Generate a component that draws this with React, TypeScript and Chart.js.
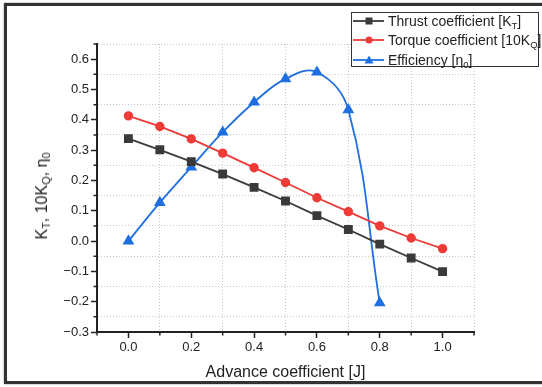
import React, { useEffect, useRef } from "react";
import { Chart, registerables } from "chart.js";

Chart.register(...registerables);

const advance = [0, 0.1, 0.2, 0.3, 0.4, 0.5, 0.6, 0.7, 0.8, 0.9, 1.0];
const thrust = [0.338, 0.301, 0.262, 0.221, 0.177, 0.132, 0.084, 0.038, -0.01, -0.056, -0.101];
const torque = [0.413, 0.378, 0.337, 0.29, 0.242, 0.193, 0.143, 0.097, 0.05, 0.01, -0.025];
const efficiencyJ = [0, 0.1, 0.2, 0.3, 0.4, 0.5, 0.6, 0.7, 0.8];
const efficiency = [0.0, 0.127, 0.244, 0.359, 0.458, 0.535, 0.557, 0.433, -0.204];
const xTickLabels = ["0.0", "0.2", "0.4", "0.6", "0.8", "1.0"];
const yTickLabels = ["\u22120.3", "\u22120.2", "\u22120.1", "0.0", "0.1", "0.2", "0.3", "0.4", "0.5", "0.6"];

const FONT = "'Liberation Sans', Arial, Helvetica, sans-serif";
const C_THRUST = "#3a3a3a";
const C_TORQUE = "#ee3b37";
const C_EFF = "#1f6fe0";
const AXIS = "#222";

function fmt(v: number) {
  return (Math.round(v * 10) / 10).toFixed(1).replace("-", "\u2212");
}
function isMajor(v: number, step: number) {
  const n = Math.round(v * 100);
  return n % step === 0;
}

const minorTicks = {
  id: "minorTicks",
  afterDatasetsDraw(chart: any) {
    const { ctx, chartArea } = chart;
    const xs = chart.scales.x;
    const ys = chart.scales.y;
    ctx.save();
    ctx.strokeStyle = AXIS;
    ctx.lineWidth = 1.5;
    ctx.beginPath();
    xs.ticks.forEach((t: any) => {
      if (!isMajor(t.value, 20)) {
        const px = xs.getPixelForValue(t.value);
        ctx.moveTo(px, chartArea.bottom);
        ctx.lineTo(px, chartArea.bottom + 3.5);
      }
    });
    ys.ticks.forEach((t: any) => {
      if (!isMajor(t.value, 10)) {
        const py = ys.getPixelForValue(t.value);
        ctx.moveTo(chartArea.left, py);
        ctx.lineTo(chartArea.left - 3.5, py);
      }
    });
    ctx.stroke();
    ctx.restore();
  },
};

export default function App() {
  const ref = useRef<HTMLCanvasElement | null>(null);
  useEffect(() => {
    document.body.style.margin = "0";
    const ctx = ref.current!;
    const chart = new Chart(ctx, {
      type: "line",
      data: {
        datasets: [
          {
            label: "Thrust coefficient [KT]",
            data: advance.map((x, i) => ({ x, y: thrust[i] })),
            borderColor: C_THRUST,
            backgroundColor: C_THRUST,
            pointStyle: "rect",
            pointRadius: 5,
            borderWidth: 1.8,
            tension: 0,
          },
          {
            label: "Torque coefficient [10KQ]",
            data: advance.map((x, i) => ({ x, y: torque[i] })),
            borderColor: C_TORQUE,
            backgroundColor: C_TORQUE,
            pointStyle: "circle",
            pointRadius: 3.8,
            borderWidth: 1.8,
            tension: 0,
          },
          {
            label: "Efficiency [η0]",
            data: efficiencyJ.map((x, i) => ({ x, y: efficiency[i] })),
            borderColor: C_EFF,
            backgroundColor: C_EFF,
            pointStyle: "triangle",
            pointRadius: 5,
            borderWidth: 1.8,
            tension: 0.4,
          },
        ],
      },
      options: {
        responsive: false,
        animation: false,
        devicePixelRatio: 1,
        layout: { padding: { left: 0, top: 44, right: 68, bottom: 0 } },
        plugins: { legend: { display: false }, tooltip: { enabled: false } },
        scales: {
          x: {
            type: "linear",
            min: -0.1,
            max: 1.1,
            afterFit: (s: any) => {
              s.height = 55;
            },
            afterBuildTicks: (s: any) => {
              const t = [];
              for (let i = -1; i <= 11; i++) t.push({ value: i / 10 });
              s.ticks = t;
            },
            ticks: {
              autoSkip: false,
              maxRotation: 0,
              padding: 2,
              color: AXIS,
              font: { family: FONT, size: 13 },
              callback: (v: any) => {
                const s = fmt(Number(v));
                return isMajor(Number(v), 20) && xTickLabels.includes(s) ? s : "";
              },
            },
            grid: {
              color: (c: any) => (c.tick && !isMajor(c.tick.value, 20) && c.tick.value > -0.05 ? "#c8c8c8" : "rgba(0,0,0,0)"),
              lineWidth: 1,
              tickLength: 6,
              tickColor: (c: any) => (c.tick && isMajor(c.tick.value, 20) ? AXIS : "rgba(0,0,0,0)"),
              tickWidth: 1.5,
            },
            border: { display: true, color: AXIS, width: 2, dash: [1, 2] },
            title: {
              display: true,
              text: "Advance coefficient [J]",
              color: AXIS,
              font: { family: FONT, size: 16 },
              padding: { top: 0, bottom: 5 },
            },
          },
          y: {
            type: "linear",
            min: -0.3,
            max: 0.65,
            afterFit: (s: any) => {
              s.width = 97;
            },
            afterBuildTicks: (s: any) => {
              const t = [];
              for (let i = -6; i <= 13; i++) t.push({ value: i / 20 });
              s.ticks = t;
            },
            ticks: {
              autoSkip: false,
              padding: 2,
              color: AXIS,
              font: { family: FONT, size: 13 },
              callback: (v: any) => {
                const s = fmt(Number(v));
                return isMajor(Number(v), 10) && yTickLabels.includes(s) ? s : "";
              },
            },
            grid: {
              color: (c: any) => (c.tick && !isMajor(c.tick.value, 10) ? "#c8c8c8" : "rgba(0,0,0,0)"),
              lineWidth: 1,
              tickLength: 6,
              tickColor: (c: any) => (c.tick && isMajor(c.tick.value, 10) ? AXIS : "rgba(0,0,0,0)"),
              tickWidth: 1.5,
            },
            border: { display: true, color: AXIS, width: 2, dash: [1, 2] },
          },
        },
      },
      plugins: [minorTicks],
    } as any);
    return () => chart.destroy();
  }, []);

  const subStyle: React.CSSProperties = { fontSize: "0.68em", verticalAlign: "-0.3em", lineHeight: 0 };
  const row = (color: string, marker: React.ReactNode, text: React.ReactNode, top: number) => (
    <div style={{ position: "absolute", left: 0, top, height: 20, width: 188, display: "flex", alignItems: "center" }}>
      <svg width={34} height={20} style={{ flex: "none" }}>
        <line x1={1} y1={10} x2={32} y2={10} stroke={color} strokeWidth={1.8} />
        {marker}
      </svg>
      <span style={{ fontSize: 14, color: AXIS, whiteSpace: "nowrap", marginLeft: 2 }}>{text}</span>
    </div>
  );

  return (
    <div style={{ position: "fixed", left: 0, top: 0, width: 542, height: 387, background: "#fff", overflow: "hidden", fontFamily: FONT }}>
      <div
        style={{
          position: "absolute",
          left: 4,
          top: 3,
          width: 560,
          height: 381,
          border: "3px solid #333",
          boxShadow: "0 0 2px #999",
          boxSizing: "border-box",
        }}
      />
      <canvas ref={ref} width={542} height={387} style={{ position: "absolute", left: 0, top: 0, width: 542, height: 387 }} />
      <div
        style={{
          position: "absolute",
          left: 42,
          top: 196,
          transform: "translate(-50%, -50%) rotate(-90deg)",
          whiteSpace: "nowrap",
          fontSize: 16,
          color: AXIS,
        }}
      >
        K<sub style={subStyle}>T</sub>, 10K<sub style={subStyle}>Q</sub>, η<sub style={subStyle}>0</sub>
      </div>
      <div
        style={{
          position: "absolute",
          left: 351,
          top: 12,
          width: 188,
          height: 55,
          border: "1px solid #333",
          background: "#fff",
          boxSizing: "border-box",
        }}
      >
        {row(C_THRUST, <rect x={13.5} y={6.5} width={7} height={7} fill={C_THRUST} />, <>Thrust coefficient [K<sub style={subStyle}>T</sub>]</>, -2)}
        {row(C_TORQUE, <circle cx={17} cy={10} r={3.5} fill={C_TORQUE} />, <>Torque coefficient [10K<sub style={subStyle}>Q</sub>]</>, 17)}
        {row(C_EFF, <polygon points="17,5.5 21.5,13.5 12.5,13.5" fill={C_EFF} />, <>Efficiency [η<sub style={subStyle}>0</sub>]</>, 37)}
      </div>
    </div>
  );
}
